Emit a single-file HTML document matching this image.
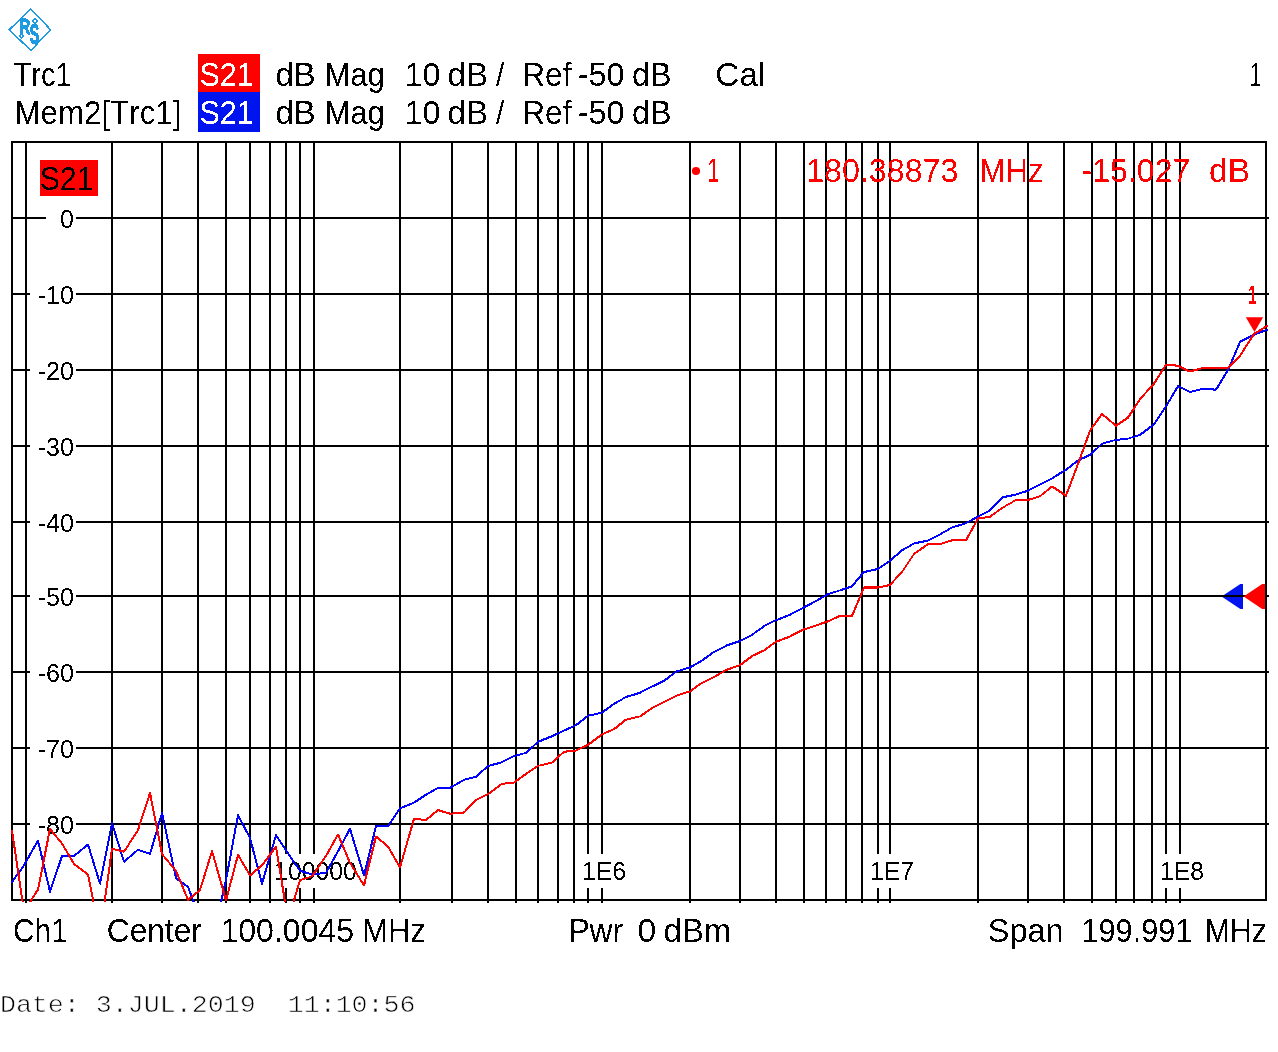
<!DOCTYPE html>
<html><head><meta charset="utf-8"><title>ZVL screenshot</title>
<style>
html,body{margin:0;padding:0;background:#fff;}
body{width:1278px;height:1052px;overflow:hidden;position:relative;}
svg text{font-kerning:none;white-space:pre;}
</style></head><body>
<svg width="1278" height="1052" viewBox="0 0 1278 1052" style="position:absolute;left:0;top:0">
<rect x="0" y="0" width="1278" height="1052" fill="#fff"/>
<defs><filter id="th" x="-15%" y="-25%" width="130%" height="150%" color-interpolation-filters="sRGB"><feComponentTransfer><feFuncA type="discrete" tableValues="0 1"/></feComponentTransfer></filter></defs>
<g>
<polygon points="30.8,9 9.2,29.8 30.8,50.4 50.6,29.8" fill="none" stroke="#1e9be0" stroke-width="1.5" filter="url(#th)"/>
<polygon points="35,18.8 37.2,21 35,23.2 32.8,21" fill="none" stroke="#1e9be0" stroke-width="1.3" filter="url(#th)"/>
<polygon points="21.5,33.8 23.7,36 21.5,38.2 19.3,36" fill="none" stroke="#1e9be0" stroke-width="1.3" filter="url(#th)"/>
</g>
<text transform="translate(18.95,33.70) scale(0.6903,1.0000)" font-family='"Liberation Sans", Arial, sans-serif' font-size="22.82" font-weight="bold" fill="#1e9be0" stroke="#1e9be0" stroke-width="0.9" filter="url(#th)">R</text>
<text transform="translate(29.80,44.00) scale(0.4823,1.0000)" font-family='"Liberation Sans", Arial, sans-serif' font-size="29.07" font-weight="bold" fill="#1e9be0" stroke="#1e9be0" stroke-width="0.9" filter="url(#th)">S</text>
<rect x="198" y="54" width="62" height="38" fill="#ff0000"/>
<rect x="198" y="92" width="62" height="40" fill="#0014f0"/>
<text transform="translate(13.38,85.80) scale(0.8818,1.0000)" font-family='"Liberation Sans", Arial, sans-serif' font-size="33.14" fill="#000" filter="url(#th)">Trc1</text>
<text transform="translate(199.41,85.80) scale(0.9222,1.0000)" font-family='"Liberation Sans", Arial, sans-serif' font-size="33.14" fill="#fff" filter="url(#th)">S21</text>
<text transform="translate(275.52,85.80) scale(0.9894,1.0000)" font-family='"Liberation Sans", Arial, sans-serif' font-size="33.14" fill="#000" filter="url(#th)">dB</text>
<text transform="translate(324.45,85.80) scale(0.9377,1.0000)" font-family='"Liberation Sans", Arial, sans-serif' font-size="33.14" fill="#000" filter="url(#th)">Mag</text>
<text transform="translate(404.43,85.80) scale(0.9775,1.0000)" font-family='"Liberation Sans", Arial, sans-serif' font-size="33.14" fill="#000" filter="url(#th)">10</text>
<text transform="translate(447.61,85.80) scale(0.9974,1.0000)" font-family='"Liberation Sans", Arial, sans-serif' font-size="33.14" fill="#000" filter="url(#th)">dB</text>
<text transform="translate(496.10,85.80) scale(0.8906,1.0000)" font-family='"Liberation Sans", Arial, sans-serif' font-size="33.14" fill="#000" filter="url(#th)">/</text>
<text transform="translate(522.20,85.80) scale(0.9570,1.0000)" font-family='"Liberation Sans", Arial, sans-serif' font-size="33.14" fill="#000" filter="url(#th)">Ref</text>
<text transform="translate(577.66,85.80) scale(0.9794,1.0000)" font-family='"Liberation Sans", Arial, sans-serif' font-size="33.14" fill="#000" filter="url(#th)">-50</text>
<text transform="translate(631.94,85.80) scale(0.9760,1.0000)" font-family='"Liberation Sans", Arial, sans-serif' font-size="33.14" fill="#000" filter="url(#th)">dB</text>
<text transform="translate(14.39,123.80) scale(0.9450,1.0000)" font-family='"Liberation Sans", Arial, sans-serif' font-size="33.14" fill="#000" filter="url(#th)">Mem2[Trc1]</text>
<text transform="translate(199.41,123.80) scale(0.9222,1.0000)" font-family='"Liberation Sans", Arial, sans-serif' font-size="33.14" fill="#fff" filter="url(#th)">S21</text>
<text transform="translate(275.52,123.80) scale(0.9894,1.0000)" font-family='"Liberation Sans", Arial, sans-serif' font-size="33.14" fill="#000" filter="url(#th)">dB</text>
<text transform="translate(324.45,123.80) scale(0.9377,1.0000)" font-family='"Liberation Sans", Arial, sans-serif' font-size="33.14" fill="#000" filter="url(#th)">Mag</text>
<text transform="translate(404.43,123.80) scale(0.9775,1.0000)" font-family='"Liberation Sans", Arial, sans-serif' font-size="33.14" fill="#000" filter="url(#th)">10</text>
<text transform="translate(447.61,123.80) scale(0.9974,1.0000)" font-family='"Liberation Sans", Arial, sans-serif' font-size="33.14" fill="#000" filter="url(#th)">dB</text>
<text transform="translate(496.10,123.80) scale(0.8906,1.0000)" font-family='"Liberation Sans", Arial, sans-serif' font-size="33.14" fill="#000" filter="url(#th)">/</text>
<text transform="translate(522.20,123.80) scale(0.9570,1.0000)" font-family='"Liberation Sans", Arial, sans-serif' font-size="33.14" fill="#000" filter="url(#th)">Ref</text>
<text transform="translate(577.66,123.80) scale(0.9794,1.0000)" font-family='"Liberation Sans", Arial, sans-serif' font-size="33.14" fill="#000" filter="url(#th)">-50</text>
<text transform="translate(631.94,123.80) scale(0.9760,1.0000)" font-family='"Liberation Sans", Arial, sans-serif' font-size="33.14" fill="#000" filter="url(#th)">dB</text>
<text transform="translate(715.30,85.80) scale(1.0081,1.0000)" font-family='"Liberation Sans", Arial, sans-serif' font-size="33.14" fill="#000" filter="url(#th)">Cal</text>
<text transform="translate(1249.39,85.80) scale(0.6369,1.0000)" font-family='"Liberation Sans", Arial, sans-serif' font-size="33.14" fill="#000" filter="url(#th)">1</text>
<g fill="#000"><rect x="25" y="141" width="2" height="762"/><rect x="111" y="141" width="2" height="762"/><rect x="161" y="141" width="2" height="762"/><rect x="197" y="141" width="2" height="762"/><rect x="225" y="141" width="2" height="762"/><rect x="249" y="141" width="2" height="762"/><rect x="269" y="141" width="2" height="762"/><rect x="285" y="141" width="2" height="762"/><rect x="299" y="141" width="2" height="762"/><rect x="313" y="141" width="2" height="762"/><rect x="399" y="141" width="2" height="762"/><rect x="451" y="141" width="2" height="762"/><rect x="487" y="141" width="2" height="762"/><rect x="515" y="141" width="2" height="762"/><rect x="537" y="141" width="2" height="762"/><rect x="557" y="141" width="2" height="762"/><rect x="573" y="141" width="2" height="762"/><rect x="587" y="141" width="2" height="762"/><rect x="601" y="141" width="2" height="762"/><rect x="689" y="141" width="2" height="762"/><rect x="739" y="141" width="2" height="762"/><rect x="775" y="141" width="2" height="762"/><rect x="803" y="141" width="2" height="762"/><rect x="825" y="141" width="2" height="762"/><rect x="845" y="141" width="2" height="762"/><rect x="861" y="141" width="2" height="762"/><rect x="877" y="141" width="2" height="762"/><rect x="889" y="141" width="2" height="762"/><rect x="977" y="141" width="2" height="762"/><rect x="1027" y="141" width="2" height="762"/><rect x="1063" y="141" width="2" height="762"/><rect x="1091" y="141" width="2" height="762"/><rect x="1115" y="141" width="2" height="762"/><rect x="1133" y="141" width="2" height="762"/><rect x="1151" y="141" width="2" height="762"/><rect x="1165" y="141" width="2" height="762"/><rect x="1179" y="141" width="2" height="762"/><rect x="11" y="217" width="1258" height="2"/><rect x="11" y="293" width="1258" height="2"/><rect x="11" y="369" width="1258" height="2"/><rect x="11" y="445" width="1258" height="2"/><rect x="11" y="521" width="1258" height="2"/><rect x="11" y="595" width="1258" height="2"/><rect x="11" y="671" width="1258" height="2"/><rect x="11" y="747" width="1258" height="2"/><rect x="11" y="823" width="1258" height="2"/><rect x="11" y="141" width="1256" height="2"/><rect x="11" y="899" width="1256" height="2"/><rect x="11" y="141" width="2" height="760"/><rect x="1265" y="141" width="2" height="760"/></g>
<rect x="46" y="205" width="30" height="26" fill="#fff"/>
<text transform="translate(60.03,227.80) scale(0.9676,1.0000)" font-family='"Liberation Sans", Arial, sans-serif' font-size="25.73" fill="#000" filter="url(#th)">0</text>
<rect x="30" y="281" width="46" height="26" fill="#fff"/>
<text transform="translate(37.74,303.80) scale(0.9719,1.0000)" font-family='"Liberation Sans", Arial, sans-serif' font-size="25.73" fill="#000" filter="url(#th)">-10</text>
<rect x="30" y="357" width="46" height="26" fill="#fff"/>
<text transform="translate(37.74,379.80) scale(0.9719,1.0000)" font-family='"Liberation Sans", Arial, sans-serif' font-size="25.73" fill="#000" filter="url(#th)">-20</text>
<rect x="30" y="433" width="46" height="26" fill="#fff"/>
<text transform="translate(37.74,455.80) scale(0.9719,1.0000)" font-family='"Liberation Sans", Arial, sans-serif' font-size="25.73" fill="#000" filter="url(#th)">-30</text>
<rect x="30" y="509" width="46" height="26" fill="#fff"/>
<text transform="translate(37.74,531.80) scale(0.9719,1.0000)" font-family='"Liberation Sans", Arial, sans-serif' font-size="25.73" fill="#000" filter="url(#th)">-40</text>
<rect x="30" y="583" width="46" height="26" fill="#fff"/>
<text transform="translate(37.74,605.80) scale(0.9719,1.0000)" font-family='"Liberation Sans", Arial, sans-serif' font-size="25.73" fill="#000" filter="url(#th)">-50</text>
<rect x="30" y="659" width="46" height="26" fill="#fff"/>
<text transform="translate(37.74,681.80) scale(0.9719,1.0000)" font-family='"Liberation Sans", Arial, sans-serif' font-size="25.73" fill="#000" filter="url(#th)">-60</text>
<rect x="30" y="735" width="46" height="26" fill="#fff"/>
<text transform="translate(37.74,757.80) scale(0.9719,1.0000)" font-family='"Liberation Sans", Arial, sans-serif' font-size="25.73" fill="#000" filter="url(#th)">-70</text>
<rect x="30" y="811" width="46" height="26" fill="#fff"/>
<text transform="translate(37.74,833.80) scale(0.9719,1.0000)" font-family='"Liberation Sans", Arial, sans-serif' font-size="25.73" fill="#000" filter="url(#th)">-80</text>
<rect x="273.0" y="854" width="86.0" height="34" fill="#fff"/>
<text transform="translate(274.11,879.70) scale(0.9652,1.0000)" font-family='"Liberation Sans", Arial, sans-serif' font-size="25.73" fill="#000" filter="url(#th)">100000</text>
<rect x="580.9" y="854" width="47.1" height="34" fill="#fff"/>
<text transform="translate(582.01,879.70) scale(0.9628,1.0000)" font-family='"Liberation Sans", Arial, sans-serif' font-size="25.73" fill="#000" filter="url(#th)">1E6</text>
<rect x="868.9" y="854" width="47.0" height="34" fill="#fff"/>
<text transform="translate(870.01,879.70) scale(0.9642,1.0000)" font-family='"Liberation Sans", Arial, sans-serif' font-size="25.73" fill="#000" filter="url(#th)">1E7</text>
<rect x="1158.9" y="854" width="47.0" height="34" fill="#fff"/>
<text transform="translate(1160.02,879.70) scale(0.9602,1.0000)" font-family='"Liberation Sans", Arial, sans-serif' font-size="25.73" fill="#000" filter="url(#th)">1E8</text>
<rect x="40" y="160" width="58" height="36" fill="#ff0000"/>
<text transform="translate(39.73,189.70) scale(0.9155,1.0000)" font-family='"Liberation Sans", Arial, sans-serif' font-size="32.99" fill="#000" filter="url(#th)">S21</text>
<circle cx="696" cy="171" r="4.1" fill="#ff0000"/>
<text transform="translate(707.27,181.90) scale(0.6355,1.0000)" font-family='"Liberation Sans", Arial, sans-serif' font-size="33.58" fill="#ff0000" filter="url(#th)">1</text>
<text transform="translate(806.15,181.90) scale(0.9594,1.0000)" font-family='"Liberation Sans", Arial, sans-serif' font-size="33.58" fill="#ff0000" filter="url(#th)">180.38873</text>
<text transform="translate(979.55,181.90) scale(0.9260,1.0000)" font-family='"Liberation Sans", Arial, sans-serif' font-size="33.58" fill="#ff0000" filter="url(#th)">MHz</text>
<text transform="translate(1081.58,181.90) scale(0.9549,1.0000)" font-family='"Liberation Sans", Arial, sans-serif' font-size="33.58" fill="#ff0000" filter="url(#th)">-15.027</text>
<text transform="translate(1209.09,181.90) scale(0.9977,1.0000)" font-family='"Liberation Sans", Arial, sans-serif' font-size="33.58" fill="#ff0000" filter="url(#th)">dB</text>
<defs><clipPath id="gc"><rect x="11" y="141" width="1258" height="761"/></clipPath></defs>
<g clip-path="url(#gc)"><g fill="none" stroke-width="2.0" stroke-linejoin="round" stroke-linecap="round" filter="url(#th)">
<polyline points="12.00,882.00 24.00,865.30 38.00,840.60 50.00,891.80 62.00,856.00 74.00,856.00 88.00,844.50 100.00,883.80 112.00,823.30 124.00,861.70 138.00,849.80 150.00,853.90 162.00,813.10 176.00,878.20 188.00,886.90 200.00,919.00 212.00,941.00 226.00,880.00 238.00,814.90 250.00,838.10 262.00,883.80 276.00,835.00 288.00,853.50 300.00,870.80 312.00,874.50 326.00,872.70 338.00,851.20 350.00,828.80 364.00,875.60 376.00,826.10 388.00,826.10 400.00,808.20 414.00,802.60 426.00,794.60 438.00,787.80 450.00,787.80 464.00,779.80 476.00,776.70 488.00,766.00 502.00,762.20 514.00,756.00 526.00,752.90 538.00,741.80 552.00,736.20 564.00,730.70 576.00,725.10 588.00,715.80 602.00,712.60 614.00,703.80 626.00,697.00 640.00,692.70 652.00,686.50 664.00,680.90 676.00,671.70 690.00,667.30 702.00,660.60 714.00,651.80 726.00,645.80 740.00,641.00 752.00,634.80 764.00,626.20 776.00,620.20 790.00,614.70 802.00,608.40 814.00,602.20 828.00,594.10 840.00,590.40 852.00,586.20 864.00,572.00 878.00,568.90 890.00,560.80 902.00,550.30 914.00,543.50 928.00,540.40 940.00,534.30 952.00,527.50 966.00,523.10 978.00,516.70 990.00,510.50 1002.00,497.50 1016.00,494.40 1028.00,490.70 1040.00,484.50 1052.00,478.40 1066.00,469.70 1078.00,460.40 1090.00,455.00 1102.00,443.60 1116.00,439.90 1128.00,438.60 1140.00,434.90 1154.00,424.40 1166.00,406.50 1178.00,386.00 1190.00,392.00 1204.00,388.40 1216.00,389.70 1228.00,369.80 1240.00,341.90 1254.00,334.50 1267.20,329.90" stroke="#0000ff"/>
<polyline points="12.00,830.70 24.00,911.50 38.00,889.40 50.00,828.80 62.00,843.60 74.00,864.00 88.00,874.50 100.00,935.00 112.00,848.60 124.00,851.70 138.00,830.00 150.00,793.00 162.00,854.10 176.00,870.80 188.00,899.90 200.00,890.00 212.00,851.10 226.00,900.50 238.00,854.80 250.00,875.50 262.00,865.30 276.00,846.70 288.00,920.00 300.00,880.10 312.00,876.40 326.00,856.00 338.00,834.40 350.00,862.80 364.00,885.50 376.00,836.60 388.00,846.50 400.00,867.50 414.00,818.70 426.00,819.90 438.00,810.00 450.00,813.80 464.00,812.50 476.00,800.20 488.00,794.20 502.00,783.80 514.00,782.60 526.00,773.90 538.00,765.90 552.00,762.60 564.00,751.70 576.00,750.40 588.00,744.90 602.00,734.40 614.00,729.10 626.00,719.60 640.00,716.40 652.00,708.10 664.00,702.00 676.00,695.80 690.00,691.40 702.00,682.80 714.00,677.10 726.00,670.00 740.00,665.10 752.00,656.10 764.00,650.40 776.00,641.80 790.00,636.50 802.00,630.00 814.00,626.30 828.00,621.30 840.00,615.80 852.00,615.80 864.00,587.60 878.00,587.60 890.00,584.90 902.00,572.00 914.00,554.00 928.00,544.10 940.00,544.10 952.00,540.20 966.00,540.20 978.00,518.50 990.00,516.70 1002.00,508.00 1016.00,500.00 1028.00,500.00 1040.00,496.30 1052.00,486.40 1066.00,495.70 1078.00,464.00 1090.00,430.60 1102.00,413.90 1116.00,425.70 1128.00,417.60 1140.00,399.10 1154.00,383.60 1166.00,364.50 1178.00,365.80 1190.00,371.50 1204.00,367.80 1216.00,367.80 1228.00,367.80 1240.00,355.80 1254.00,333.90 1267.20,325.90" stroke="#ff0000"/>
</g></g>
<polygon points="1221.6,596.5 1240.3,584 1243,584 1243,609 1240.3,609" fill="#0014f0"/>
<rect x="1222" y="595" width="21" height="2" fill="#000"/>
<polygon points="1243.6,596.5 1262.2,584 1265.2,584 1265.2,609 1262.2,609" fill="#ff0000"/>
<rect x="1265" y="575" width="2" height="45" fill="#000"/>
<rect x="1267" y="595" width="2" height="2" fill="#000"/>
<polygon points="1245.8,317.2 1263.1,317.2 1254.5,331.9" fill="#ff0000"/>
<text transform="translate(1248.01,304.00) scale(0.5996,1.0000)" font-family='"Liberation Sans", Arial, sans-serif' font-size="26.16" font-weight="bold" fill="#ff0000" filter="url(#th)">1</text>
<text transform="translate(13.09,941.80) scale(0.9032,1.0000)" font-family='"Liberation Sans", Arial, sans-serif' font-size="32.99" fill="#000" filter="url(#th)">Ch1</text>
<text transform="translate(106.79,941.80) scale(0.9607,1.0000)" font-family='"Liberation Sans", Arial, sans-serif' font-size="32.99" fill="#000" filter="url(#th)">Center</text>
<text transform="translate(220.46,941.80) scale(0.9722,1.0000)" font-family='"Liberation Sans", Arial, sans-serif' font-size="32.99" fill="#000" filter="url(#th)">100.0045</text>
<text transform="translate(362.37,941.80) scale(0.9360,1.0000)" font-family='"Liberation Sans", Arial, sans-serif' font-size="32.99" fill="#000" filter="url(#th)">MHz</text>
<text transform="translate(568.39,941.80) scale(0.9651,1.0000)" font-family='"Liberation Sans", Arial, sans-serif' font-size="32.99" fill="#000" filter="url(#th)">Pwr</text>
<text transform="translate(637.58,941.80) scale(1.0208,1.0000)" font-family='"Liberation Sans", Arial, sans-serif' font-size="32.99" fill="#000" filter="url(#th)">0</text>
<text transform="translate(663.62,941.80) scale(0.9956,1.0000)" font-family='"Liberation Sans", Arial, sans-serif' font-size="32.99" fill="#000" filter="url(#th)">dBm</text>
<text transform="translate(987.82,941.80) scale(0.9848,1.0000)" font-family='"Liberation Sans", Arial, sans-serif' font-size="32.99" fill="#000" filter="url(#th)">Span</text>
<text transform="translate(1081.36,941.80) scale(0.9319,1.0000)" font-family='"Liberation Sans", Arial, sans-serif' font-size="32.99" fill="#000" filter="url(#th)">199.991</text>
<text transform="translate(1204.82,941.80) scale(0.9171,1.0000)" font-family='"Liberation Sans", Arial, sans-serif' font-size="32.99" fill="#000" filter="url(#th)">MHz</text>
<text transform="translate(-0.11,1011.80) scale(0.9987,0.8813)" font-family='"Liberation Mono", "Courier New", monospace' font-size="26.70" fill="#000" stroke="#fff" stroke-width="0.75" filter="url(#th)">Date: 3.JUL.2019  11:10:56</text>
</svg>
</body></html>
